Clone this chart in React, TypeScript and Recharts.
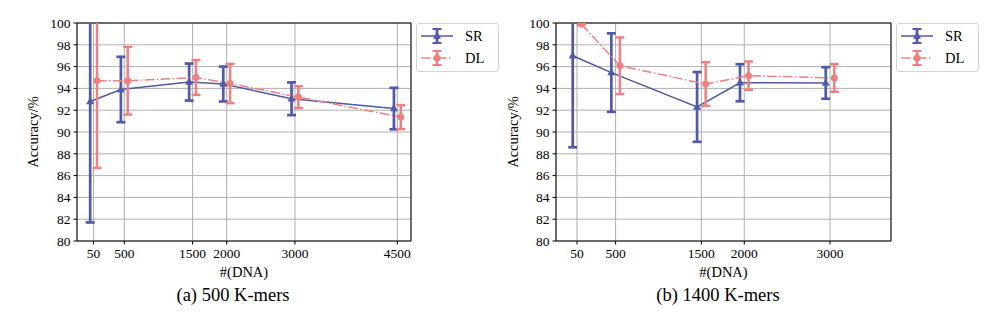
import React from 'react';
import {
  ComposedChart,
  Line,
  XAxis,
  YAxis,
  CartesianGrid,
  ErrorBar,
  ReferenceLine
} from 'recharts';

const SR_COLOR = '#4f5aa8';
const DL_COLOR = '#f08080';
const FONT = "'Liberation Serif', serif";

// (a) 500 K-mers
const dnaA = [50, 500, 1500, 2000, 3000, 4500];
const srAccA = [92.8, 93.9, 94.58, 94.4, 93.05, 92.15];
const srErrA = [11.1, 3.0, 1.7, 1.6, 1.5, 1.9];
const dlAccA = [94.7, 94.7, 95.0, 94.45, 93.2, 91.37];
const dlErrA = [8.0, 3.1, 1.6, 1.8, 1.0, 1.1];

// (b) 1400 K-mers
const dnaB = [50, 500, 1500, 2000, 3000];
const srAccB = [97.0, 95.45, 92.3, 94.52, 94.5];
const srErrB = [8.4, 3.6, 3.2, 1.7, 1.45];
const dlAccB = [99.9, 96.08, 94.4, 95.17, 94.96];
const dlErrB = [0.1, 2.6, 2.0, 1.3, 1.27];

const yTicks = [80, 82, 84, 86, 88, 90, 92, 94, 96, 98, 100];

// points are nudged sideways so the two error bars don't sit on top of each other
const SHIFT = 50;

const toSeries = (xs: number[], ys: number[], errs: number[], dx: number) =>
  xs.map((x, i) => ({ x: x + dx, acc: ys[i], err: errs[i] }));

const Triangle = (props: any) => {
  const { cx, cy } = props;
  if (cx == null || cy == null) return <g />;
  return (
    <path
      d={`M${cx},${cy - 4.5} L${cx + 4},${cy + 2.7} L${cx - 4},${cy + 2.7} Z`}
      fill={SR_COLOR}
    />
  );
};

const Circle = (props: any) => {
  const { cx, cy } = props;
  if (cx == null || cy == null) return <g />;
  return <circle cx={cx} cy={cy} r={3.5} fill={DL_COLOR} />;
};

const tickStyle = { fill: '#000', fontSize: 13.5, fontFamily: FONT };
const labelStyle = { fill: '#000', fontSize: 14.5, fontFamily: FONT };

interface PanelProps {
  id: string;
  left: number;
  yAxisWidth: number;
  marginRight: number;
  xDomain: [number, number];
  ticks: number[];
  sr: { x: number; acc: number; err: number }[];
  dl: { x: number; acc: number; err: number }[];
  caption: string;
  captionCenter: number;
  yLabelOffset: number;
}

const W = 496;
const H = 317;
const TOP = 23;
const BOTTOM = 76;

const Panel: React.FC<PanelProps> = ({
  id, left, yAxisWidth, marginRight, xDomain, ticks, sr, dl, caption, captionCenter, yLabelOffset
}) => (
  <div style={{ position: 'absolute', left, top: 0, width: W, height: H, fontFamily: FONT }}>
    {/* plot-area clip for the error bars that run past 100 */}
    <svg width={0} height={0} style={{ position: 'absolute' }}>
      <defs>
        <clipPath id={id} clipPathUnits="userSpaceOnUse">
          <rect x={yAxisWidth} y={TOP} width={W - yAxisWidth - marginRight} height={H - TOP - BOTTOM} />
        </clipPath>
      </defs>
    </svg>
    <ComposedChart
      width={W}
      height={H}
      margin={{ top: TOP, right: marginRight, bottom: 36, left: 0 }}
    >
      <CartesianGrid stroke="#b0b0b0" strokeWidth={1} />
      <XAxis
        type="number"
        dataKey="x"
        domain={xDomain}
        ticks={ticks}
        allowDataOverflow
        interval={0}
        height={40}
        tickSize={3.5}
        tickMargin={4}
        stroke="#000"
        tick={tickStyle}
        label={{ value: '#(DNA)', position: 'insideBottom', offset: 4, style: labelStyle }}
      />
      <YAxis
        type="number"
        domain={[80, 100]}
        ticks={yTicks}
        allowDataOverflow
        interval={0}
        width={yAxisWidth}
        tickSize={3.5}
        tickMargin={3}
        stroke="#000"
        tick={tickStyle}
        label={{
          value: 'Accuracy/%',
          angle: -90,
          position: 'insideLeft',
          offset: yLabelOffset,
          style: { ...labelStyle, textAnchor: 'middle' }
        }}
      />
      <ReferenceLine y={100} stroke="#000" />
      <ReferenceLine x={xDomain[1]} stroke="#000" />
      <Line
        data={sr}
        dataKey="acc"
        stroke={SR_COLOR}
        strokeWidth={1.5}
        dot={(p: any) => <Triangle key={`sr-${p.index}`} {...p} />}
        activeDot={false}
        isAnimationActive={false}
      >
        <ErrorBar
          dataKey="err"
          direction="y"
          width={4.5}
          strokeWidth={2.7}
          stroke={SR_COLOR}
          clipPath={`url(#${id})`}
        />
      </Line>
      <Line
        data={dl}
        dataKey="acc"
        stroke={DL_COLOR}
        strokeWidth={1.5}
        strokeDasharray="9.6 2.4 1.5 2.4"
        dot={(p: any) => <Circle key={`dl-${p.index}`} {...p} />}
        activeDot={false}
        isAnimationActive={false}
      >
        <ErrorBar
          dataKey="err"
          direction="y"
          width={4.5}
          strokeWidth={2.5}
          stroke={DL_COLOR}
          clipPath={`url(#${id})`}
        />
      </Line>
    </ComposedChart>
    <div
      style={{
        position: 'absolute',
        left: captionCenter - 100,
        width: 200,
        top: 285,
        textAlign: 'center',
        fontSize: 18.5,
        lineHeight: '20px',
        color: '#000'
      }}
    >
      {caption}
    </div>
  </div>
);

const LegendBox: React.FC<{ left: number }> = ({ left }) => (
  <div
    style={{
      position: 'absolute',
      left,
      top: 23,
      width: 83,
      height: 49,
      boxSizing: 'border-box',
      border: '1px solid #d4d4d4',
      borderRadius: 3,
      background: 'rgba(255,255,255,0.85)',
      fontFamily: FONT,
      fontSize: 14.5,
      color: '#000'
    }}
  >
    <svg width={32} height={20} style={{ position: 'absolute', left: 4, top: 2 }}>
      <line x1={0} y1={10} x2={32} y2={10} stroke={SR_COLOR} strokeWidth={1.5} />
      <line x1={16} y1={3} x2={16} y2={17} stroke={SR_COLOR} strokeWidth={2.7} />
      <line x1={11.5} y1={3} x2={20.5} y2={3} stroke={SR_COLOR} strokeWidth={2} />
      <line x1={11.5} y1={17} x2={20.5} y2={17} stroke={SR_COLOR} strokeWidth={2} />
      <path d="M16,5.5 L20,12.7 L12,12.7 Z" fill={SR_COLOR} />
    </svg>
    <span style={{ position: 'absolute', left: 48, top: 3, lineHeight: '18px' }}>SR</span>
    <svg width={32} height={20} style={{ position: 'absolute', left: 4, top: 24 }}>
      <line
        x1={0} y1={10} x2={32} y2={10}
        stroke={DL_COLOR} strokeWidth={1.5} strokeDasharray="9.6 2.4 1.5 2.4"
      />
      <line x1={16} y1={3} x2={16} y2={17} stroke={DL_COLOR} strokeWidth={2.5} />
      <line x1={11.5} y1={3} x2={20.5} y2={3} stroke={DL_COLOR} strokeWidth={2} />
      <line x1={11.5} y1={17} x2={20.5} y2={17} stroke={DL_COLOR} strokeWidth={2} />
      <circle cx={16} cy={10} r={3.5} fill={DL_COLOR} />
    </svg>
    <span style={{ position: 'absolute', left: 48, top: 25, lineHeight: '18px' }}>DL</span>
  </div>
);

export default function App() {
  return (
    <div style={{ position: 'absolute', left: 0, top: 0, width: 992, height: 317, background: '#fff' }}>
      <Panel
        id="clip-a"
        left={0}
        yAxisWidth={77}
        marginRight={85}
        xDomain={[-193, 4700]}
        ticks={dnaA}
        sr={toSeries(dnaA, srAccA, srErrA, -SHIFT)}
        dl={toSeries(dnaA, dlAccA, dlErrA, SHIFT)}
        caption="(a) 500 K-mers"
        captionCenter={233}
        yLabelOffset={33}
      />
      <Panel
        id="clip-b"
        left={496}
        yAxisWidth={60}
        marginRight={101}
        xDomain={[-195, 3711]}
        ticks={dnaB}
        sr={toSeries(dnaB, srAccB, srErrB, -SHIFT)}
        dl={toSeries(dnaB, dlAccB, dlErrB, SHIFT)}
        caption="(b) 1400 K-mers"
        captionCenter={222}
        yLabelOffset={17}
      />
      <LegendBox left={416} />
      <LegendBox left={896} />
    </div>
  );
}
